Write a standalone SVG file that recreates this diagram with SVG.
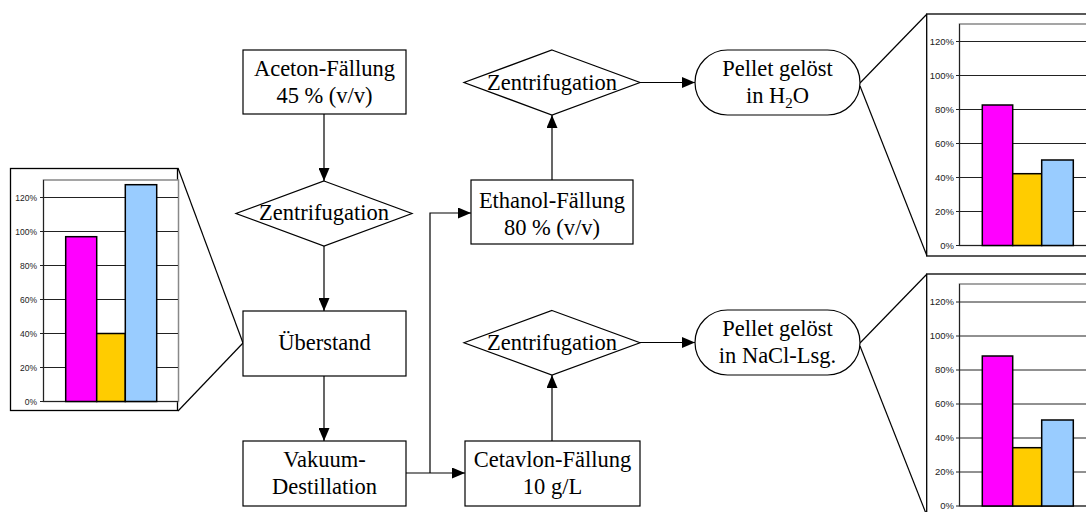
<svg xmlns="http://www.w3.org/2000/svg" width="1086" height="512" viewBox="0 0 1086 512">
<defs>
<marker id="arr" markerUnits="userSpaceOnUse" markerWidth="13" markerHeight="11" viewBox="0 0 13 11" refX="13" refY="5.5" orient="auto">
<path d="M0,0 L13,5.5 L0,11 Z" fill="#000"/>
</marker>
</defs>
<style>
.box{fill:#fff;stroke:#000;stroke-width:1.2}
.t{font-family:"Liberation Serif","Times New Roman",serif;font-size:22.5px;fill:#000;text-anchor:middle}
.c{stroke:#000;stroke-width:1.2;fill:none}
.ca{stroke:#000;stroke-width:1.2;fill:none;marker-end:url(#arr)}
.frame{fill:#fff;stroke:#000;stroke-width:1.3}
.plot{fill:#fff;stroke:#888;stroke-width:1.5}
.grid{stroke:#222;stroke-width:1}
.lbl{font-family:"Liberation Sans",Arial,sans-serif;font-size:8.5px;fill:#222;text-anchor:end}
.lblr{font-family:"Liberation Sans",Arial,sans-serif;font-size:9.5px;fill:#222;text-anchor:end}
.bar{stroke:#000;stroke-width:1.5}
.m{fill:#FF00FF}.y{fill:#FFCC00}.b{fill:#99CCFF}
</style>

<g id="connectors">
<line class="ca" x1="324" y1="114" x2="324" y2="181"/>
<line class="ca" x1="324" y1="246" x2="324" y2="311"/>
<line class="ca" x1="324" y1="376" x2="324" y2="441"/>
<line class="ca" x1="406" y1="473" x2="465" y2="473"/>
<polyline class="ca" points="430,473 430,213 471,213"/>
<line class="ca" x1="552" y1="180" x2="552" y2="115"/>
<line class="ca" x1="552" y1="441" x2="552" y2="375"/>
<line class="ca" x1="640" y1="82.5" x2="695" y2="82.5"/>
<line class="ca" x1="640" y1="342.5" x2="695" y2="342.5"/>
<line class="c" x1="178" y1="168" x2="243" y2="343"/>
<line class="c" x1="178" y1="411" x2="243" y2="343"/>
<line class="c" x1="860" y1="83" x2="927" y2="14"/>
<line class="c" x1="860" y1="86" x2="927" y2="256"/>
<line class="c" x1="860" y1="343" x2="927" y2="274"/>
<line class="c" x1="860" y1="346" x2="927" y2="516"/>
</g>

<g id="aceton">
<rect class="box" x="243" y="50" width="163" height="64"/>
<text class="t" x="324.5" y="76">Aceton-Fällung</text>
<text class="t" x="324.5" y="103">45 % (v/v)</text>
</g>

<g id="zentri1">
<polygon class="box" points="324,181 412,213.5 324,246 236,213.5"/>
<text class="t" x="324" y="220">Zentrifugation</text>
</g>

<g id="ueberstand">
<rect class="box" x="243" y="311" width="163" height="65"/>
<text class="t" x="324.5" y="350">Überstand</text>
</g>

<g id="vakuum">
<rect class="box" x="243" y="441" width="163" height="65"/>
<text class="t" x="324.5" y="467">Vakuum-</text>
<text class="t" x="324.5" y="494">Destillation</text>
</g>

<g id="ethanol">
<rect class="box" x="471" y="180" width="162" height="64"/>
<text class="t" x="552" y="208">Ethanol-Fällung</text>
<text class="t" x="552" y="235">80 % (v/v)</text>
</g>

<g id="zentri2">
<polygon class="box" points="552,50 640,82.5 552,115 464,82.5"/>
<text class="t" x="552" y="90">Zentrifugation</text>
</g>

<g id="cetavlon">
<rect class="box" x="465" y="441" width="175" height="65"/>
<text class="t" x="552.5" y="467">Cetavlon-Fällung</text>
<text class="t" x="552.5" y="494">10 g/L</text>
</g>

<g id="zentri3">
<polygon class="box" points="552,310.5 640,342.75 552,375 464,342.75"/>
<text class="t" x="552" y="350">Zentrifugation</text>
</g>

<g id="pellet1">
<rect class="box" x="695" y="50" width="165" height="65" rx="32.5" ry="32.5"/>
<text class="t" x="777.5" y="76">Pellet gelöst</text>
<text class="t" x="777.5" y="103">in H<tspan font-size="15" dy="5">2</tspan><tspan dy="-5">O</tspan></text>
</g>

<g id="pellet2">
<rect class="box" x="695" y="310" width="165" height="65" rx="32.5" ry="32.5"/>
<text class="t" x="777.5" y="336">Pellet gelöst</text>
<text class="t" x="777.5" y="363">in NaCl-Lsg.</text>
</g>

<g id="chart-left">
<rect class="frame" x="10.5" y="168.5" width="167" height="242"/>
<rect class="plot" x="43.5" y="180" width="135" height="221.5"/>
<g class="grid">
<line x1="40" y1="197.5" x2="178" y2="197.5"/>
<line x1="40" y1="231.5" x2="178" y2="231.5"/>
<line x1="40" y1="265.5" x2="178" y2="265.5"/>
<line x1="40" y1="299.5" x2="178" y2="299.5"/>
<line x1="40" y1="333.5" x2="178" y2="333.5"/>
<line x1="40" y1="367.5" x2="178" y2="367.5"/>
<line x1="40" y1="401.5" x2="178" y2="401.5"/>
<line x1="43.5" y1="180" x2="43.5" y2="401.5"/>
</g>
<rect class="bar m" x="65.7" y="236.7" width="31" height="164.8"/>
<rect class="bar y" x="96.7" y="333.5" width="28.6" height="68"/>
<rect class="bar b" x="125.3" y="184.7" width="31.4" height="216.8"/>
<text class="lbl" x="37" y="200.5">120%</text>
<text class="lbl" x="37" y="234.5">100%</text>
<text class="lbl" x="37" y="268.5">80%</text>
<text class="lbl" x="37" y="302.5">60%</text>
<text class="lbl" x="37" y="336.5">40%</text>
<text class="lbl" x="37" y="370.5">20%</text>
<text class="lbl" x="37" y="404.5">0%</text>
</g>

<g id="chart-top-right">
<rect class="frame" x="926.7" y="14" width="200" height="242"/>
<rect class="plot" x="959.5" y="24" width="150" height="221.5"/>
<g class="grid">
<line x1="956" y1="41.5" x2="1086" y2="41.5"/>
<line x1="956" y1="75.5" x2="1086" y2="75.5"/>
<line x1="956" y1="109.5" x2="1086" y2="109.5"/>
<line x1="956" y1="143.5" x2="1086" y2="143.5"/>
<line x1="956" y1="177.5" x2="1086" y2="177.5"/>
<line x1="956" y1="211.5" x2="1086" y2="211.5"/>
<line x1="956" y1="245.5" x2="1086" y2="245.5"/>
<line x1="959.5" y1="24" x2="959.5" y2="245.5"/>
</g>
<rect class="bar m" x="982.3" y="105" width="30.4" height="140.5"/>
<rect class="bar y" x="1012.7" y="173.7" width="29" height="71.8"/>
<rect class="bar b" x="1041.7" y="160" width="31.6" height="85.5"/>
<text class="lblr" x="954" y="44.8">120%</text>
<text class="lblr" x="954" y="78.8">100%</text>
<text class="lblr" x="954" y="112.8">80%</text>
<text class="lblr" x="954" y="146.8">60%</text>
<text class="lblr" x="954" y="180.8">40%</text>
<text class="lblr" x="954" y="214.8">20%</text>
<text class="lblr" x="954" y="248.8">0%</text>
</g>

<g id="chart-bottom-right">
<rect class="frame" x="926.7" y="274" width="200" height="242"/>
<rect class="plot" x="959.5" y="284" width="150" height="222"/>
<g class="grid">
<line x1="956" y1="302" x2="1086" y2="302"/>
<line x1="956" y1="336" x2="1086" y2="336"/>
<line x1="956" y1="370" x2="1086" y2="370"/>
<line x1="956" y1="404" x2="1086" y2="404"/>
<line x1="956" y1="438" x2="1086" y2="438"/>
<line x1="956" y1="472" x2="1086" y2="472"/>
<line x1="956" y1="506" x2="1086" y2="506"/>
<line x1="959.5" y1="284" x2="959.5" y2="506"/>
</g>
<rect class="bar m" x="982.3" y="356" width="30.4" height="150"/>
<rect class="bar y" x="1012.7" y="447.7" width="29" height="58.3"/>
<rect class="bar b" x="1041.7" y="420" width="31.6" height="86"/>
<text class="lblr" x="954" y="305.3">120%</text>
<text class="lblr" x="954" y="339.3">100%</text>
<text class="lblr" x="954" y="373.3">80%</text>
<text class="lblr" x="954" y="407.3">60%</text>
<text class="lblr" x="954" y="441.3">40%</text>
<text class="lblr" x="954" y="475.3">20%</text>
<text class="lblr" x="954" y="509.3">0%</text>
</g>
</svg>
